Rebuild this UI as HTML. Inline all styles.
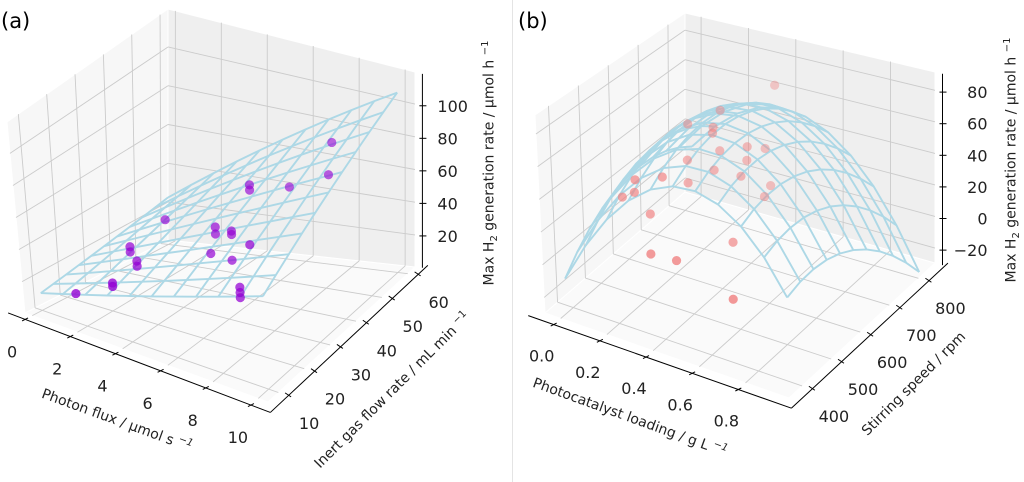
<!DOCTYPE html>
<html><head><meta charset="utf-8"><style>
html,body{margin:0;padding:0;background:#fff;}
svg{display:block;font-family:"DejaVu Sans","Liberation Sans",sans-serif;}
</style></head><body>
<svg id="fig" width="1024" height="482" viewBox="0 0 1024 482" xmlns="http://www.w3.org/2000/svg">
<rect x="0" y="0" width="1024" height="482" fill="#fff"/>
<line x1="512.5" y1="0" x2="512.5" y2="482" stroke="#e4e4e4" stroke-width="1"/>
<g id="pa"></g>
<g id="pb"></g>
<text x="1" y="28" font-size="21">(a)</text>
<text x="518" y="28" font-size="21">(b)</text>
</svg>
<script>
// ---- Panel (a) data ----
const aPhoton=[0.91,2.06,2.06,2.25,2.25,1.5,1.5,1.69,4.59,4.59,5.06,5.06,4.59,5.52,6.65,6.65,6.65,6.93,5.43,5.43,6.46,7.86,8.42];
const aGas=[15.6,20,20,28,28,32,32,44,38,38,40,40,36,36,29,29,29,31,44,44,50,54,48];
const aRate=[10,15,17,20,23,25,22,30,40,36,37,35,27,26,22,19,16,45,60,57,55,80,70];
const aXTicks=[0,2,4,6,8,10];
const aYTicks=[10,20,30,40,50,60];
const aZTicks=[20,40,60,80,100];
const aSurfX=[0,1,2,3,4,5,6,7,8,9,10];
const aSurfY=[10,15,20,25,30,35,40,45,50,55,60];
const aSurfCoef=[8.2,3.24,0.28,0.086]; // z = c0 + c1 x + c2 y + c3 x y
// ---- Panel (b) data ----
const bLoad=[0.261,0.15,0.278,0.28,0.296,0.399,0.43,0.2,0.388,0.292,0.401,0.083,0.19,0.066,0.015,0.229,0.468,0.46,0.137,0.473,0.228,0.333,0.59,0.426];
const bStir=[712,690,674,670,681,692,728,647,699,664,668,561,569,571,570,625,715,700,567,580,493,497,484,765];
const bRate=[60,50,55,52,40,45,40,35,35,30,30,30,35,20,15,25,20,15,10,5,0,0,-10,75];
const bXTicks=[0.0,0.2,0.4,0.6,0.8];
const bYTicks=[400,500,600,700,800];
const bZTicks=[-20,0,20,40,60,80];
const bSurfX=[-0.03,0.066,0.162,0.258,0.354,0.45,0.546,0.642,0.738,0.834,0.93];
const bSurfY=[400,445,490,535,580,625,670,715,760,805,850];
// quadratic response surface: P - A dx^2 - B dy^2 + D dx dy + Ex dx + Ey dy, dx=x-x0, dy=y-y0
const bSurfCoef=[75,0.45,625,260,0.000441,-0.163,-5.56,-0.04];

const NS="http://www.w3.org/2000/svg";
function mk(parent,tag,attrs){const e=document.createElementNS(NS,tag);for(const k in attrs)e.setAttribute(k,attrs[k]);parent.appendChild(e);return e;}

const CA={F:[[25,313],[268,402],[415,267],[168,240]],T:[[7,122],[254,185],[415,72],[168,9]],xr:[-0.32,10.43],yr:[6,62.8],zr:[0.4,119.6]};
const CB={F:[[545,313],[789,398],[935,263],[685,192]],T:[[535,115],[785,174],[935,72],[685,13]],xr:[-0.068,0.988],yr:[355,857],zr:[-29.5,91.6]};

function bil(Q,u,v,i){return Q[0][i]*(1-u)*(1-v)+Q[1][i]*u*(1-v)+Q[2][i]*u*v+Q[3][i]*(1-u)*v;}
function proj(c,x,y,z){
  const u=(x-c.xr[0])/(c.xr[1]-c.xr[0]),v=(y-c.yr[0])/(c.yr[1]-c.yr[0]),w=(z-c.zr[0])/(c.zr[1]-c.zr[0]);
  const fx=bil(c.F,u,v,0),fy=bil(c.F,u,v,1),tx=bil(c.T,u,v,0),ty=bil(c.T,u,v,1);
  return [fx+(tx-fx)*w,fy+(ty-fy)*w];
}
function pts(arr){return arr.map(p=>p[0].toFixed(1)+","+p[1].toFixed(1)).join(" ");}

function drawPanel(g,c,opt){
  const [x0,x1]=c.xr,[y0,y1]=c.yr,[z0,z1]=c.zr;
  const xs=x1-x0,ys=y1-y0;
  const floor=mk(g,"polygon",{points:pts([proj(c,x0,y0,z0),proj(c,x1,y0,z0),proj(c,x1,y1,z0),proj(c,x0,y1,z0)]),fill:"#fafafa",stroke:"#fff"});
  
  
  const left=mk(g,"polygon",{points:pts([proj(c,x0,y0,z0),proj(c,x0,y1,z0),proj(c,x0,y1,z1),proj(c,x0,y0,z1)]),fill:"#f7f7f7",stroke:"#fff"});
  
  
  const back=mk(g,"polygon",{points:pts([proj(c,x0,y1,z0),proj(c,x1,y1,z0),proj(c,x1,y1,z1),proj(c,x0,y1,z1)]),fill:"#efefef",stroke:"#fff"});
  
  
  const gg=mk(g,"g",{stroke:"#cbcbcb","stroke-width":"0.9",fill:"none"});
  
  
  function ln(a,b){mk(gg,"line",{x1:a[0],y1:a[1],x2:b[0],y2:b[1]});}
  opt.xt.forEach(t=>{ln(proj(c,t,y0,z0),proj(c,t,y1,z0));ln(proj(c,t,y1,z0),proj(c,t,y1,z1));});
  opt.yt.forEach(t=>{ln(proj(c,x0,t,z0),proj(c,x1,t,z0));ln(proj(c,x0,t,z0),proj(c,x0,t,z1));});
  opt.zt.forEach(t=>{ln(proj(c,x0,y0,t),proj(c,x0,y1,t));ln(proj(c,x0,y1,t),proj(c,x1,y1,t));});
  const ax=mk(g,"g",{stroke:"#000","stroke-width":"1",fill:"none"});
  
  
  const yOff=y0-0.05*ys, xOff=x1+0.04*xs;
  let a=proj(c,x0-0.04*xs,yOff,z0),b=proj(c,x1+0.04*xs,yOff,z0);
  mk(ax,"line",{x1:a[0],y1:a[1],x2:b[0],y2:b[1]});
  a=proj(c,xOff,y0-0.05*ys,z0);b=proj(c,xOff,y1+0.02*ys,z0);
  mk(ax,"line",{x1:a[0],y1:a[1],x2:b[0],y2:b[1]});
  a=proj(c,x1+0.03*xs,y1,z0);b=proj(c,x1+0.03*xs,y1,z1);
  mk(ax,"line",{x1:a[0],y1:a[1],x2:b[0],y2:b[1]});
  const tl=mk(g,"g",{"font-size":"16",fill:"#222"});
  
  
  opt.xt.forEach(t=>{const p=proj(c,t,yOff,z0);
    mk(ax,"line",{x1:p[0]-3,y1:p[1]+1.5,x2:p[0]+3,y2:p[1]-1.5});
    const e=mk(tl,"text",{x:p[0]+opt.xo[0],y:p[1]+opt.xo[1],"text-anchor":"middle"});e.textContent=opt.xf(t);
    
    });
  opt.yt.forEach(t=>{const p=proj(c,xOff,t,z0);
    mk(ax,"line",{x1:p[0]-3,y1:p[1]-3,x2:p[0]+3,y2:p[1]+1});
    const e=mk(tl,"text",{x:p[0]+opt.yo[0],y:p[1]+opt.yo[1],"text-anchor":"middle"});e.textContent=opt.yf(t);
    
    });
  opt.zt.forEach(t=>{const p=proj(c,x1+0.03*xs,y1,t);
    mk(ax,"line",{x1:p[0]-3,y1:p[1],x2:p[0]+4,y2:p[1]});
    const e=mk(tl,"text",{x:p[0]+opt.zo,y:p[1]+6,"text-anchor":opt.za});e.textContent=String(t).replace("-","\u2212");
    
    });
  const sf=mk(g,"g",{stroke:"#add8e6","stroke-width":"1.9",fill:"none","stroke-linejoin":"round"});
  
  
  opt.sy.forEach(yv=>{mk(sf,"polyline",{points:pts(opt.sx.map(xv=>proj(c,xv,yv,opt.sz(xv,yv))))});});
  opt.sx.forEach(xv=>{mk(sf,"polyline",{points:pts(opt.sy.map(yv=>proj(c,xv,yv,opt.sz(xv,yv))))});});
  const sc=mk(g,"g",{});
  
  
  opt.px.forEach((xv,i)=>{const p=proj(c,xv,opt.py[i],opt.pz[i]);
    const v=(opt.py[i]-y0)/ys;
    const d=mk(sc,"circle",{cx:p[0],cy:p[1],r:4.6,fill:opt.col,"fill-opacity":(opt.amax-opt.adep*v).toFixed(2)});
    
    });
}

drawPanel(document.getElementById("pa"),CA,{
  xt:aXTicks,yt:aYTicks,zt:aZTicks,xo:[-13,38],yo:[21,33],zo:15,za:"start",
  xf:t=>String(t),yf:t=>String(t),
  sx:aSurfX,sy:aSurfY,sz:(x,y)=>aSurfCoef[0]+aSurfCoef[1]*x+aSurfCoef[2]*y+aSurfCoef[3]*x*y,
  px:aPhoton,py:aGas,pz:aRate,col:"#9400d3",amax:0.85,adep:0.3});
function bSurf(x,y){const k=bSurfCoef,dx=x-k[1],dy=y-k[2];
  return k[0]-k[3]*dx*dx-k[4]*dy*dy+k[5]*dx*dy+k[6]*dx+k[7]*dy;}
drawPanel(document.getElementById("pb"),CB,{
  xt:bXTicks,yt:bYTicks,zt:bZTicks,xo:[-12,37],yo:[22,33],zo:45,za:"end",
  xf:t=>t.toFixed(1),yf:t=>String(t),
  sx:bSurfX,sy:bSurfY,sz:bSurf,
  px:bLoad,py:bStir,pz:bRate,col:"#f08080",amax:1.0,adep:0.75});
</script>
<div style="position:absolute;left:0;top:0;width:1024px;height:482px;pointer-events:none;font-family:'DejaVu Sans','Liberation Sans',sans-serif;font-size:14px;color:#222;">
  <div style="position:absolute;left:117px;top:420px;transform:translate(-50%,-50%) rotate(20deg);white-space:nowrap;">Photon flux / μmol s <sup style="font-size:10px;font-style:italic">−1</sup></div>
  <div style="position:absolute;left:392px;top:390px;transform:translate(-50%,-50%) rotate(-45deg);white-space:nowrap;">Inert gas flow rate / mL min <sup style="font-size:10px">−1</sup></div>
  <div style="position:absolute;left:490px;top:163px;transform:translate(-50%,-50%) rotate(-90deg);white-space:nowrap;">Max H<sub style="font-size:10px">2</sub> generation rate / μmol h <sup style="font-size:10px">−1</sup></div>
  <div style="position:absolute;left:630px;top:417px;transform:translate(-50%,-50%) rotate(20deg);white-space:nowrap;">Photocatalyst loading / g L <sup style="font-size:10px;font-style:italic">−1</sup></div>
  <div style="position:absolute;left:914px;top:384px;transform:translate(-50%,-50%) rotate(-45deg);white-space:nowrap;">Stirring speed / rpm</div>
  <div style="position:absolute;left:1012px;top:160px;transform:translate(-50%,-50%) rotate(-90deg);white-space:nowrap;">Max H<sub style="font-size:10px">2</sub> generation rate / μmol h <sup style="font-size:10px">−1</sup></div>
</div>
</body></html>
